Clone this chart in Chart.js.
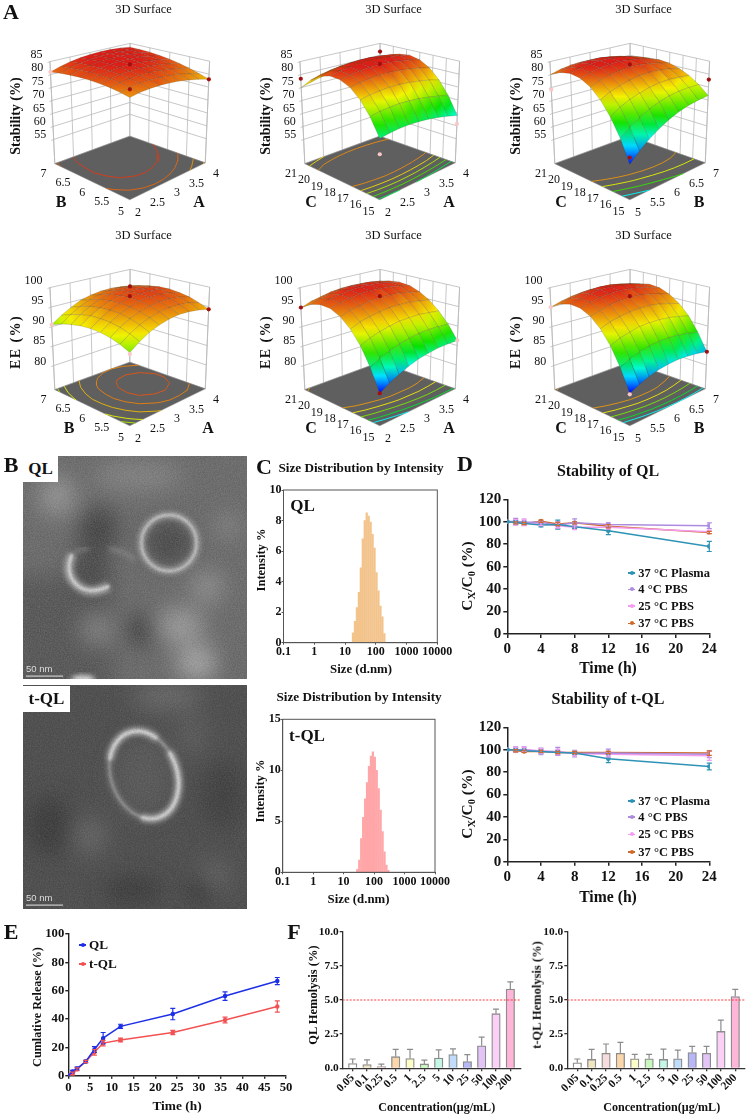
<!DOCTYPE html>
<html lang="en">
<head>
<meta charset="UTF-8">
<title>Liposome characterisation</title>
<script src="https://cdn.jsdelivr.net/npm/chart.js"></script>
<style>
    html, body { margin: 0; padding: 0; background: #fff; }
    #page { position: relative; width: 747px; height: 1115px; overflow: hidden; font-family: "Liberation Serif", serif; color: #111; filter: blur(0.35px); }
    canvas { position: absolute; }
    svg { position: absolute; }
    .lbl { position: absolute; white-space: nowrap; line-height: 1; }
    .lbl sub { font-size: 68%; vertical-align: -0.3em; line-height: 0; }
    .tag { position: absolute; background: #fff; font-weight: bold; font-size: 17px; text-align: center; }
    .scale { position: absolute; color: #ddd; font: 9.5px "Liberation Sans", sans-serif; }
    .key { position: absolute; height: 1.5px; }
    .key i { position: absolute; left: 50%; top: 50%; width: 4px; height: 4px; margin: -2px; border-radius: 50%; background: inherit; }
</style>
</head>
<body>
<div id="page">
    <!-- TEM micrographs, panel B -->
    <svg style="left:23px;top:456px" width="224" height="223">
        <defs>
            <filter id="b12" x="-50%" y="-50%" width="200%" height="200%"><feGaussianBlur stdDeviation="11"/></filter>
            <filter id="b2" x="-30%" y="-30%" width="160%" height="160%"><feGaussianBlur stdDeviation="2.5"/></filter>
            <filter id="b1" x="-30%" y="-30%" width="160%" height="160%"><feGaussianBlur stdDeviation="0.8"/></filter>
            <filter id="grain"><feTurbulence type="fractalNoise" baseFrequency="0.8" numOctaves="2" seed="4"/><feColorMatrix values="0 0 0 0 0.5  0 0 0 0 0.5  0 0 0 0 0.5  1.4 0 0 0 -0.45"/></filter>
            <filter id="grainDark"><feTurbulence type="fractalNoise" baseFrequency="0.75" numOctaves="2" seed="9"/><feColorMatrix values="0 0 0 0 0  0 0 0 0 0  0 0 0 0 0  1.2 0 0 0 -0.45"/></filter>
        </defs>
        <rect width="224" height="223" fill="#6c6c6c"/>
        <g filter="url(#b12)">
            <rect x="-20" y="120" width="110" height="130" fill="#585858"/>
            <ellipse cx="75" cy="74" rx="20" ry="24" fill="#454545"/>
            <ellipse cx="124" cy="174" rx="22" ry="15" fill="#404040"/>
            <ellipse cx="194" cy="207" rx="12" ry="10" fill="#4c4c4c"/>
            <ellipse cx="67" cy="115" rx="20" ry="20" fill="#4a4a4a"/>
            <ellipse cx="146" cy="87" rx="24" ry="24" fill="#4c4c4c"/>
            <ellipse cx="34" cy="40" rx="18" ry="20" fill="#979797"/>
            <ellipse cx="157" cy="170" rx="24" ry="18" fill="#9c9c9c"/>
            <ellipse cx="174" cy="207" rx="20" ry="18" fill="#a8a8a8"/>
            <ellipse cx="184" cy="131" rx="16" ry="16" fill="#929292"/>
            <ellipse cx="74" cy="174" rx="14" ry="14" fill="#888"/>
            <ellipse cx="115" cy="20" rx="45" ry="14" fill="#858585"/>
            <ellipse cx="205" cy="70" rx="10" ry="12" fill="#8d8d8d"/>
        </g>
        <ellipse cx="60" cy="223" rx="12" ry="4" fill="#ddd" filter="url(#b2)"/>
        <g fill="none">
            <ellipse cx="146" cy="87" rx="28" ry="28" stroke="#a0a0a0" stroke-width="7" filter="url(#b2)"/>
            <ellipse cx="146" cy="87" rx="27.5" ry="28" stroke="#d0d0d0" stroke-width="1.8" filter="url(#b1)"/>
            <path d="M49 98 Q40 118 55 130 Q68 140 86 130" stroke="#a8a8a8" stroke-width="9" filter="url(#b2)"/>
            <path d="M49 98 Q41 118 55 130 Q68 139 86 130" stroke="#d8d8d8" stroke-width="2.6" filter="url(#b1)"/>
            <path d="M66 93 L86 93" stroke="#e6e6e6" stroke-width="1.3" filter="url(#b1)"/>
            <path d="M50 98 Q56 92 66 93" stroke="#8a8a8a" stroke-width="2.5" filter="url(#b2)"/>
            <path d="M86 93 Q100 94 112 104" stroke="#8e8e8e" stroke-width="3" filter="url(#b2)"/>
        </g>
        <rect width="224" height="223" filter="url(#grain)" opacity="0.25"/>
        <rect width="224" height="223" filter="url(#grainDark)" opacity="0.18"/>
        <rect x="3" y="219.5" width="37" height="1.2" fill="#ccc"/>
    </svg>
    <svg style="left:23px;top:685px" width="224" height="224">
        <rect width="224" height="224" fill="#4f4f4f"/>
        <g filter="url(#b12)">
            <ellipse cx="144" cy="11" rx="35" ry="14" fill="#6a6a6a"/>
            <ellipse cx="67" cy="151" rx="16" ry="18" fill="#686868"/>
            <ellipse cx="191" cy="191" rx="16" ry="14" fill="#666"/>
            <ellipse cx="170" cy="50" rx="14" ry="20" fill="#5e5e5e"/>
            <ellipse cx="27" cy="141" rx="22" ry="30" fill="#3e3e3e"/>
            <ellipse cx="177" cy="205" rx="12" ry="12" fill="#333"/>
            <ellipse cx="110" cy="205" rx="30" ry="12" fill="#3a3a3a"/>
            <ellipse cx="200" cy="110" rx="22" ry="35" fill="#424242"/>
            <ellipse cx="121" cy="91" rx="30" ry="40" fill="#5a5a5a"/>
        </g>
        <g fill="none" transform="rotate(-20 121 90)">
            <ellipse cx="121" cy="90" rx="33" ry="45" stroke="#7e7e7e" stroke-width="5" filter="url(#b2)"/>
            <ellipse cx="121" cy="90" rx="33" ry="45" stroke="#b0b0b0" stroke-width="1.2" filter="url(#b1)"/>
            <ellipse cx="121" cy="90" rx="33" ry="45" stroke="#a8a8a8" stroke-width="7" stroke-dasharray="95 70 65 18" stroke-dashoffset="15" filter="url(#b2)"/>
            <ellipse cx="121" cy="90" rx="33" ry="45" stroke="#dedede" stroke-width="2.4" stroke-dasharray="95 70 65 18" stroke-dashoffset="15" filter="url(#b1)"/>
        </g>
        <rect width="224" height="224" filter="url(#grain)" opacity="0.18"/>
        <rect width="224" height="224" filter="url(#grainDark)" opacity="0.18"/>
        <rect x="3" y="219.5" width="37" height="1.2" fill="#ccc"/>
    </svg>
    <div class="tag" style="left:23px;top:456px;width:35px;height:26px;line-height:26px">QL</div>
    <div class="tag" style="left:23px;top:686px;width:47px;height:26px;line-height:26px">t-QL</div>
    <div class="scale" style="left:26px;top:663px">50 nm</div>
    <div class="scale" style="left:26px;top:892px">50 nm</div>
</div>

<script>
    // Panel A, response surfaces. Rows run along the left floor axis, columns along the right one.
    const tickA = [2, 2.5, 3, 3.5, 4];
    const tickB = [5, 5.5, 6, 6.5, 7];
    const tickC = [15, 16, 17, 18, 19, 20, 21];
    const tickStability = [55, 60, 65, 70, 75, 80, 85];
    const tickEE = [80, 85, 90, 95, 100];

    const stabilityAB = [
        [79.6, 80.3, 80.7, 80.9, 80.8, 80.5, 79.9, 79.1, 78.0],
        [80.4, 81.2, 81.7, 81.9, 81.9, 81.6, 81.1, 80.3, 79.3],
        [81.1, 81.9, 82.4, 82.7, 82.8, 82.6, 82.1, 81.4, 80.5],
        [81.5, 82.4, 83.0, 83.4, 83.5, 83.3, 83.0, 82.3, 81.4],
        [81.8, 82.7, 83.4, 83.8, 84.0, 83.9, 83.6, 83.0, 82.2],
        [81.9, 82.9, 83.6, 84.1, 84.3, 84.3, 84.1, 83.5, 82.8],
        [81.8, 82.8, 83.6, 84.2, 84.5, 84.5, 84.3, 83.9, 83.2],
        [81.5, 82.6, 83.5, 84.1, 84.4, 84.5, 84.4, 84.0, 83.4],
        [81.0, 82.2, 83.1, 83.8, 84.2, 84.4, 84.3, 84.0, 83.4]
    ];
    const stabilityAC = [
        [66.0, 66.6, 67.0, 67.1, 67.0, 66.6, 66.0, 65.1, 64.0],
        [72.2, 72.9, 73.3, 73.5, 73.4, 73.1, 72.5, 71.7, 70.7],
        [76.9, 77.6, 78.1, 78.4, 78.4, 78.1, 77.6, 76.9, 75.9],
        [80.2, 81.0, 81.5, 81.9, 81.9, 81.7, 81.3, 80.6, 79.7],
        [82.0, 82.9, 83.5, 83.9, 84.0, 83.9, 83.5, 82.9, 82.0],
        [82.4, 83.4, 84.0, 84.5, 84.7, 84.6, 84.3, 83.7, 82.9],
        [81.4, 82.4, 83.1, 83.6, 83.9, 83.9, 83.6, 83.1, 82.4],
        [78.9, 80.0, 80.8, 81.4, 81.7, 81.7, 81.5, 81.1, 80.4],
        [75.0, 76.1, 77.0, 77.6, 78.0, 78.1, 78.0, 77.6, 77.0]
    ];
    const stabilityBC = [
        [57.5, 60.6, 63.3, 65.6, 67.6, 69.2, 70.4, 71.2, 71.7],
        [65.0, 67.5, 69.7, 71.5, 73.0, 74.1, 74.7, 75.0, 75.0],
        [71.1, 73.3, 75.0, 76.3, 77.3, 78.0, 78.2, 78.0, 77.6],
        [75.9, 77.7, 79.0, 80.0, 80.7, 80.9, 80.8, 80.3, 79.4],
        [79.4, 80.9, 82.0, 82.6, 83.0, 83.0, 82.5, 81.7, 80.6],
        [81.6, 82.8, 83.7, 84.1, 84.3, 84.0, 83.4, 82.4, 81.0],
        [82.4, 83.5, 84.2, 84.5, 84.6, 84.2, 83.4, 82.2, 80.7],
        [81.8, 82.9, 83.6, 83.8, 83.8, 83.3, 82.5, 81.3, 79.7],
        [80.0, 81.1, 81.8, 82.0, 82.0, 81.6, 80.8, 79.5, 78.0]
    ];
    const eeAB = [
        [90.0, 91.7, 93.1, 94.1, 94.8, 95.2, 95.2, 94.9, 94.3],
        [91.1, 92.8, 94.2, 95.2, 95.9, 96.3, 96.3, 96.1, 95.4],
        [91.9, 93.6, 95.0, 96.0, 96.7, 97.1, 97.2, 96.9, 96.3],
        [92.4, 94.1, 95.5, 96.5, 97.3, 97.7, 97.7, 97.4, 96.8],
        [92.6, 94.3, 95.7, 96.8, 97.5, 97.9, 98.0, 97.7, 97.1],
        [92.5, 94.3, 95.6, 96.7, 97.4, 97.8, 97.9, 97.7, 97.1],
        [92.1, 93.9, 95.3, 96.4, 97.1, 97.5, 97.6, 97.3, 96.7],
        [91.5, 93.2, 94.6, 95.7, 96.4, 96.8, 96.9, 96.7, 96.1],
        [90.5, 92.2, 93.6, 94.8, 95.5, 95.9, 96.0, 95.8, 95.2]
    ];
    const eeAC = [
        [81.0, 82.4, 83.5, 84.5, 85.3, 85.8, 86.2, 86.3, 86.3],
        [86.0, 87.2, 88.1, 88.9, 89.5, 89.9, 90.1, 90.0, 89.8],
        [90.1, 91.1, 91.9, 92.5, 93.0, 93.1, 93.2, 92.9, 92.6],
        [93.2, 94.2, 94.8, 95.3, 95.7, 95.7, 95.7, 95.3, 94.8],
        [95.4, 96.3, 96.8, 97.3, 97.5, 97.5, 97.4, 96.9, 96.4],
        [96.7, 97.5, 98.0, 98.5, 98.7, 98.6, 98.4, 98.0, 97.4],
        [97.0, 97.8, 98.3, 98.8, 99.0, 98.9, 98.8, 98.3, 97.7],
        [96.4, 97.2, 97.8, 98.3, 98.5, 98.5, 98.4, 98.0, 97.4],
        [94.8, 95.8, 96.4, 97.0, 97.3, 97.4, 97.3, 97.0, 96.5]
    ];
    const eeBC = [
        [81.0, 82.1, 83.0, 83.7, 84.1, 84.3, 84.2, 83.9, 83.4],
        [86.0, 87.0, 87.9, 88.5, 88.8, 88.9, 88.7, 88.3, 87.7],
        [90.1, 91.1, 91.8, 92.4, 92.6, 92.6, 92.4, 91.9, 91.3],
        [93.3, 94.2, 94.8, 95.3, 95.5, 95.5, 95.2, 94.6, 93.9],
        [95.5, 96.3, 97.0, 97.4, 97.5, 97.5, 97.1, 96.5, 95.7],
        [96.8, 97.6, 98.2, 98.6, 98.7, 98.6, 98.2, 97.6, 96.8],
        [97.1, 97.9, 98.5, 98.9, 99.0, 98.9, 98.5, 97.9, 97.1],
        [96.5, 97.3, 97.9, 98.3, 98.4, 98.3, 97.9, 97.3, 96.5],
        [95.0, 95.8, 96.4, 96.8, 96.9, 96.8, 96.4, 95.8, 95.0]
    ];

    // floor contour levels
    const levelsStabilityAB = [83, 81.3, 79.6, 78.2];
    const levelsStabilityAC = [80, 77, 74, 70.5, 67];
    const levelsStabilityBC = [79.6, 75.5, 70, 63.5];
    const levelsEEAB = [97.3, 96, 94.3, 92.2, 91];
    const levelsEEAC = [95.3, 92.8, 90, 87, 84.5];
    const levelsEEBC = [95.3, 92.8, 90, 87, 84.5];

    // design points: fraction along right axis, fraction along left axis, response, above surface (1) or below (0)
    const pointsStabilityAB = [[0.5, 0.5, 84, 1], [0.5, 0.5, 74.6, 1], [1, 0, 78, 1], [0, 1, 81, 0]];
    const pointsStabilityAC = [[0.5, 0.5, 84.2, 1], [1, 1, 81.5, 1], [0, 0, 60.8, 0], [0, 1, 78.4, 1], [1, 0, 60.8, 0]];
    const pointsStabilityBC = [[0.5, 0.5, 84, 1], [0, 0, 59.7, 1], [1, 0, 77.9, 1], [0, 1, 74.2, 0]];
    const pointsEEAB = [[0.5, 0.5, 97.9, 1], [1, 1, 95.2, 1], [0, 0, 89.7, 0], [1, 0, 94.3, 1], [0, 1, 90.5, 0]];
    const pointsEEAC = [[0.5, 0.5, 97.9, 1], [0, 0, 81, 1], [0, 1, 94.9, 1], [1, 0, 86.3, 0]];
    const pointsEEBC = [[0.5, 0.5, 97.9, 1], [0, 0, 80.8, 0], [0, 1, 95, 0], [1, 0, 83.4, 1]];

    // Panel C, size distribution by intensity
    const sizeBinsQL = [18.17, 21.04, 24.36, 28.21, 32.67, 37.84, 43.82, 50.75, 58.77, 68.06, 78.82, 91.28, 105.7, 122.4, 141.8, 164.2, 190.1];
    const intensityQL = [0.65, 1.4, 2.3, 3.3, 4.9, 6.8, 8.0, 8.5, 8.3, 7.9, 7.1, 6.2, 4.6, 3.4, 2.4, 1.7, 0.6];
    const sizeBinsTQL = [28.21, 32.67, 37.84, 43.82, 50.75, 58.77, 68.06, 78.82, 91.28, 105.7, 122.4, 141.8, 164.2, 190.1, 220.2, 255.0, 295.3];
    const intensityTQL = [0.3, 1.2, 3.3, 5.4, 7.2, 8.8, 10.4, 11.4, 11.8, 11.3, 10.0, 8.2, 6.1, 4.0, 2.0, 0.7, 0.2];
    const sizeTicks = [0.1, 1, 10, 100, 1000, 10000];

    // Panel D, stability
    const stabilityHours = [0, 1, 2, 4, 6, 8, 12, 24];
    const stabilityNames = ['37 °C Plasma', '4 °C PBS', '25 °C PBS', '37 °C PBS'];
    const stabilityColors = ['#2f93b5', '#ad8ce0', '#f49cef', '#cf6a2a'];
    const qlPlasma = [100, 99.5, 98.5, 97, 97.5, 95.5, 92, 78];
    const qlPlasmaErr = [0, 2, 1.5, 1.5, 4, 1.5, 3.5, 4.5];
    const ql4C = [100, 100.5, 99.5, 99.5, 97, 99, 97.5, 96.5];
    const ql4CErr = [0, 2.5, 2, 1.5, 3, 3.5, 1.5, 2.5];
    const ql25C = [100, 99.5, 99.5, 98, 96.5, 95, 95, 91];
    const ql25CErr = [0, 2.5, 3, 1.5, 2, 2, 1.5, 1.5];
    const ql37C = [100, 99, 98.5, 100.5, 98, 99, 96, 90.5];
    const ql37CErr = [0, 1, 1, 1, 1.5, 1, 1.5, 1];
    const tqlPlasma = [100, 100, 99, 98.5, 97.5, 97, 92, 85];
    const tqlPlasmaErr = [0, 1.5, 1.5, 2, 2, 1.5, 3.5, 3];
    const tql4C = [100, 100, 100, 98.5, 98.5, 96.5, 97, 96];
    const tql4CErr = [0, 2.5, 2.5, 3, 3.5, 3, 3.5, 3];
    const tql25C = [100, 100, 100, 99, 98, 96.5, 96, 94.5];
    const tql25CErr = [0, 2, 2, 2, 2.5, 2, 2.5, 4];
    const tql37C = [100, 99, 98.5, 98.5, 97.5, 97.5, 97.5, 97];
    const tql37CErr = [0, 1, 1, 1, 1, 1, 1, 2];

    // Panel E, cumulative release
    const releaseHours = [0, 1, 2, 4, 6, 8, 12, 24, 36, 48];
    const releaseQL = [0, 3, 5, 10, 18.5, 26.5, 34.8, 43.5, 56.2, 66.8];
    const releaseQLErr = [0, 0.8, 1, 0.8, 2, 4, 1.5, 4, 3, 2.5];
    const releaseTQL = [0, 1.5, 4.5, 10, 16.5, 23, 25.2, 30.5, 39.3, 48.8];
    const releaseTQLErr = [0, 1, 1, 0.8, 2, 2, 1.3, 1.5, 2, 4];

    // Panel F, hemolysis
    const concentrations = ['0.05', '0.1', '0.25', '0.5', '1', '2.5', '5', '10', '25', '50', '100', '200'];
    const hemolysisColors = ['#ffffff', '#efe6c0', '#f6dcdc', '#fbd6aa', '#fdfdc8', '#c8f7c0', '#c4f7e4', '#c0dcfa', '#b7b7f7', '#e2c4f7', '#fbd0f7', '#ffb5d8'];
    const hemolysisQL = [0.35, 0.28, 0.12, 0.85, 0.72, 0.32, 0.75, 1.0, 0.5, 1.65, 4.0, 5.8];
    const hemolysisQLErr = [0.33, 0.34, 0.18, 0.53, 0.66, 0.28, 0.6, 0.42, 0.5, 0.63, 0.33, 0.52];
    const hemolysisTQL = [0.4, 0.65, 1.1, 1.1, 0.7, 0.7, 0.65, 0.7, 1.15, 1.1, 2.7, 5.25];
    const hemolysisTQLErr = [0.28, 0.73, 0.68, 0.8, 0.32, 0.32, 0.75, 0.63, 0.45, 0.5, 0.82, 0.53];
    const hemolysisLimit = 5;

    const FONT = '"Liberation Serif", serif';
    Chart.defaults.font.family = FONT;
    Chart.defaults.color = '#111';
    Chart.defaults.animation = false;
    Chart.defaults.responsive = false;
    Chart.defaults.events = [];
    Chart.defaults.plugins.legend.display = false;
    Chart.defaults.plugins.tooltip.enabled = false;

    const page = document.getElementById('page');

    function label(html, x, y, size, opts) {
        opts = opts || {};
        const d = document.createElement('div');
        d.className = 'lbl';
        d.innerHTML = html;
        d.style.left = x + 'px';
        d.style.top = y + 'px';
        d.style.fontSize = size + 'px';
        d.style.fontWeight = opts.normal ? 'normal' : 'bold';
        if (opts.spacing) d.style.letterSpacing = opts.spacing + 'px';
        d.style.transform = 'translate(-50%,-50%)' + (opts.rot ? ' rotate(' + opts.rot + 'deg)' : '');
        page.appendChild(d);
    }

    function addCanvas(x, y, w, h) {
        const c = document.createElement('canvas');
        c.width = w;
        c.height = h;
        c.style.left = x + 'px';
        c.style.top = y + 'px';
        page.appendChild(c);
        return c;
    }

    // error bars, read from dataset.errors through the chart scales
    const errorBars = {
        id: 'errorBars',
        afterDatasetsDraw(chart) {
            const ctx = chart.ctx, ys = chart.scales.y;
            chart.data.datasets.forEach((ds, i) => {
                if (!ds.errors) return;
                const meta = chart.getDatasetMeta(i);
                ctx.save();
                ctx.strokeStyle = ds.errorColor || ds.borderColor;
                ctx.lineWidth = ds.errorWidth || 1.2;
                ds.data.forEach((p, k) => {
                    const e = ds.errors[k];
                    if (!e) return;
                    const x = meta.data[k].x, cap = ds.capSize || 2.5;
                    const top = ys.getPixelForValue(p.y + e);
                    const bottom = ys.getPixelForValue(ds.upperOnly ? p.y : p.y - e);
                    ctx.beginPath();
                    ctx.moveTo(x, bottom); ctx.lineTo(x, top);
                    ctx.moveTo(x - cap, top); ctx.lineTo(x + cap, top);
                    if (!ds.upperOnly) { ctx.moveTo(x - cap, bottom); ctx.lineTo(x + cap, bottom); }
                    ctx.stroke();
                });
                ctx.restore();
            });
        }
    };

    const frame = {
        id: 'frame',
        afterDraw(chart) {
            const a = chart.chartArea, ctx = chart.ctx;
            ctx.save();
            ctx.strokeStyle = '#555';
            ctx.lineWidth = 1;
            ctx.strokeRect(a.left, a.top, a.right - a.left, a.bottom - a.top);
            ctx.restore();
        }
    };

    // plain 2D chart whose plot area sits at a fixed place on the page
    function fixedChart(box, plot, type, datasets, xOpts, yOpts, plugins) {
        const canvas = addCanvas(box.x, box.y, box.w, box.h);
        const fit = (s, prop, val) => {
            s[prop] = val;
            s.paddingLeft = s.paddingRight = s.paddingTop = s.paddingBottom = 0;
        };
        return new Chart(canvas, {
            type: type,
            data: { datasets: datasets },
            options: {
                layout: { padding: { top: plot.top - box.y, right: box.x + box.w - plot.right, left: 0, bottom: 0 } },
                scales: {
                    x: Object.assign({ afterFit: s => fit(s, 'height', box.y + box.h - plot.bottom) }, xOpts),
                    y: Object.assign({ afterFit: s => fit(s, 'width', plot.left - box.x) }, yOpts)
                }
            },
            plugins: plugins || [errorBars]
        });
    }

    function axisLook(size, tickLength, pad, color, width) {
        return {
            border: { color: color, width: width },
            grid: { drawOnChartArea: false, drawTicks: true, tickLength: tickLength, color: color, lineWidth: width, offset: false },
            ticks: { font: { size: size, weight: 'bold' }, color: '#111', padding: pad, autoSkip: false, maxRotation: 0 }
        };
    }

    function merge(a, b) {
        const out = Object.assign({}, a, b);
        out.ticks = Object.assign({}, a.ticks, b.ticks);
        return out;
    }

    // ---- Panel A ----
    const STAB_RAMP = [[57, [0, 0, 255]], [63.5, [0, 255, 255]], [68.5, [0, 225, 0]], [76, [245, 245, 0]], [84, [220, 30, 25]]];
    const EE_RAMP = [[81, [0, 0, 255]], [84.5, [0, 255, 255]], [87.5, [0, 225, 0]], [92.5, [245, 245, 0]], [99, [220, 30, 25]]];

    function rampColor(ramp, z) {
        if (z <= ramp[0][0]) return 'rgb(' + ramp[0][1] + ')';
        for (let k = 1; k < ramp.length; k++) {
            if (z <= ramp[k][0]) {
                const t = (z - ramp[k - 1][0]) / (ramp[k][0] - ramp[k - 1][0]);
                const c = ramp[k][1].map((v, n) => Math.round(ramp[k - 1][1][n] + t * (v - ramp[k - 1][1][n])));
                return 'rgb(' + c + ')';
            }
        }
        return 'rgb(' + ramp[ramp.length - 1][1] + ')';
    }

    function contourPieces(grid, wanted) {
        // nudged so a level never lands exactly on a grid value
        const level = wanted + 0.013;
        const out = [], n = grid.length - 1;
        for (let j = 0; j < n; j++) {
            for (let i = 0; i < n; i++) {
                const a = grid[j][i], b = grid[j][i + 1], c = grid[j + 1][i + 1], d = grid[j + 1][i];
                const hits = [];
                if ((a - level) * (b - level) < 0) hits.push([i + (level - a) / (b - a), j]);
                if ((b - level) * (c - level) < 0) hits.push([i + 1, j + (level - b) / (c - b)]);
                if ((d - level) * (c - level) < 0) hits.push([i + (level - d) / (c - d), j + 1]);
                if ((a - level) * (d - level) < 0) hits.push([i, j + (level - a) / (d - a)]);
                if (hits.length >= 2) out.push([hits[0][0] / n, hits[0][1] / n], [hits[1][0] / n, hits[1][1] / n], null);
            }
        }
        return out;
    }

    function surfacePanel(col, row, cfg) {
        const W = 247, H = 226, left = col * 250, top = row * 226;
        const zTicks = cfg.zTicks, zTop = zTicks[zTicks.length - 1], zFloor = cfg.zFloor;
        const mix = (a, b, t) => [a[0] + (b[0] - a[0]) * t, a[1] + (b[1] - a[1]) * t];
        const F = [130, 203], R = [208, 164.7], L = [52.5, 165.5], B = [130, 137];
        const Ft = [130, 80], Rt = [212.5, 59.3], Lt = [47.5, 59.7], Bt = [130.3, 40.8];
        const project = (u, v, z) => {
            const w = (z - zFloor) / (zTop - zFloor);
            const floor = mix(mix(F, R, u), mix(L, B, u), v);
            const lid = mix(mix(Ft, Rt, u), mix(Lt, Bt, u), v);
            const p = mix(floor, lid, w);
            return { x: p[0], y: p[1] };
        };
        const gap = { x: NaN, y: NaN };
        const line = { type: 'scatter', showLine: true, pointRadius: 0, fill: false };
        const datasets = [];

        // design points on top
        datasets.push({
            type: 'scatter',
            data: cfg.points.map(p => project(p[0], p[1], p[2])),
            pointRadius: 2.1,
            pointBorderWidth: 0,
            pointBackgroundColor: cfg.points.map(p => p[3] ? '#a30f0f' : '#f8c8c8')
        });

        // surface cells, front first so the back ones are painted before them
        const grid = cfg.grid, n = grid.length - 1, cells = [];
        for (let j = 0; j < n; j++) for (let i = 0; i < n; i++) cells.push([i, j]);
        cells.sort((a, b) => (a[0] + a[1]) - (b[0] + b[1]));
        cells.forEach(([i, j]) => {
            const corners = [[i, j], [i + 1, j], [i + 1, j + 1], [i, j + 1]].map(c => project(c[0] / n, c[1] / n, grid[c[1]][c[0]]));
            const zs = [grid[j][i], grid[j][i + 1], grid[j + 1][i + 1], grid[j + 1][i]];
            const lo = zs.indexOf(Math.min(...zs)), hi = zs.indexOf(Math.max(...zs));
            datasets.push(Object.assign({}, line, {
                data: corners.concat([corners[0]]),
                fill: 'shape',
                borderWidth: 0.5,
                borderColor: 'rgba(50,40,20,0.33)',
                backgroundColor: c => {
                    const sx = c.chart.scales.x, sy = c.chart.scales.y;
                    const x0 = sx.getPixelForValue(corners[lo].x), y0 = sy.getPixelForValue(corners[lo].y);
                    const x1 = sx.getPixelForValue(corners[hi].x), y1 = sy.getPixelForValue(corners[hi].y);
                    // the option is read once before the scales have their size
                    if (![x0, y0, x1, y1].every(Number.isFinite)) return rampColor(cfg.ramp, zs[hi]);
                    const g = c.chart.ctx.createLinearGradient(x0, y0, x1, y1);
                    g.addColorStop(0, rampColor(cfg.ramp, zs[lo]));
                    g.addColorStop(0.5, rampColor(cfg.ramp, (zs[lo] + zs[hi]) / 2));
                    g.addColorStop(1, rampColor(cfg.ramp, zs[hi]));
                    return g;
                }
            }));
        });

        // contours on the floor
        cfg.levels.forEach(level => {
            datasets.push(Object.assign({}, line, {
                data: contourPieces(grid, level).map(p => p ? project(p[0], p[1], zFloor) : gap),
                borderWidth: 0.9,
                borderColor: rampColor(cfg.ramp, level)
            }));
        });

        // floor
        datasets.push(Object.assign({}, line, {
            data: [[0, 0], [1, 0], [1, 1], [0, 1], [0, 0]].map(p => project(p[0], p[1], zFloor)),
            fill: 'shape',
            borderWidth: 0.5,
            borderColor: '#8a8a8a',
            backgroundColor: '#5f5f5f'
        }));

        // walls
        const wall = [];
        const seg = (a, b) => wall.push(a, b, gap);
        const spanOf = t => (t[t.length - 1] - t[0]);
        zTicks.concat([zFloor]).forEach(z => {
            seg(project(0, 1, z), project(1, 1, z));
            seg(project(1, 1, z), project(1, 0, z));
        });
        cfg.rightTicks.forEach(t => {
            const u = (t - cfg.rightTicks[0]) / spanOf(cfg.rightTicks);
            seg(project(u, 1, zFloor), project(u, 1, zTop));
        });
        cfg.leftTicks.forEach(t => {
            const v = (t - cfg.leftTicks[0]) / spanOf(cfg.leftTicks);
            seg(project(1, v, zFloor), project(1, v, zTop));
        });
        seg(project(0, 1, zFloor), project(0, 1, zTop));
        seg(project(1, 0, zFloor), project(1, 0, zTop));
        zTicks.forEach(z => {
            const p = project(0, 1, z);
            seg({ x: p.x - 2.5, y: p.y + 1 }, p);
        });
        datasets.push(Object.assign({}, line, { data: wall, borderWidth: 0.8, borderColor: '#b9b9b9' }));

        new Chart(addCanvas(left, top, W, H), {
            type: 'scatter',
            data: { datasets: datasets },
            options: {
                clip: false,
                scales: {
                    x: { type: 'linear', display: false, min: 0, max: W },
                    y: { type: 'linear', display: false, min: 0, max: H, reverse: true }
                }
            }
        });

        // text
        const tx = left, ty = top;
        label('3D Surface', tx + 143.5, ty + 8.5, 12.5, { normal: true });
        label(cfg.title, tx + 16, ty + 116, 14, { rot: -90, spacing: cfg.titleSpacing });
        zTicks.forEach(z => {
            const p = project(0, 1, z);
            label(String(z), tx + p.x - (z >= 100 ? 14 : 11), ty + p.y - 6, 12, { normal: true });
        });
        cfg.leftTicks.forEach(t => {
            const v = (t - cfg.leftTicks[0]) / spanOf(cfg.leftTicks);
            const p = project(0, v, zFloor);
            label(String(t), tx + p.x - (t >= 10 ? 11.5 : 9), ty + p.y + 7.5, 12, { normal: true });
        });
        cfg.rightTicks.forEach(t => {
            const u = (t - cfg.rightTicks[0]) / spanOf(cfg.rightTicks);
            const p = project(u, 0, zFloor);
            label(String(t), tx + p.x + 8, ty + p.y + 8.5, 12, { normal: true });
        });
        label(cfg.leftName, tx + (cfg.leftX || 61), ty + 201.5, 16);
        label(cfg.rightName, tx + (cfg.rightX || 199), ty + 201.5, 16);
    }

    const STAB = { title: 'Stability (%)', zTicks: tickStability, zFloor: 45.7, ramp: STAB_RAMP };
    const EE = { title: 'EE (%)', titleSpacing: 1.4, zTicks: tickEE, zFloor: 73.85, ramp: EE_RAMP };
    surfacePanel(0, 0, Object.assign({}, STAB, { grid: stabilityAB, levels: levelsStabilityAB, points: pointsStabilityAB, leftTicks: tickB, rightTicks: tickA, leftName: 'B', rightName: 'A' }));
    surfacePanel(1, 0, Object.assign({}, STAB, { grid: stabilityAC, levels: levelsStabilityAC, points: pointsStabilityAC, leftTicks: tickC, rightTicks: tickA, leftName: 'C', rightName: 'A' }));
    surfacePanel(2, 0, Object.assign({}, STAB, { grid: stabilityBC, levels: levelsStabilityBC, points: pointsStabilityBC, leftTicks: tickC, rightTicks: tickB, leftName: 'C', rightName: 'B' }));
    surfacePanel(0, 1, Object.assign({}, EE, { grid: eeAB, levels: levelsEEAB, points: pointsEEAB, leftTicks: tickB, rightTicks: tickA, leftName: 'B', rightName: 'A', leftX: 69, rightX: 208 }));
    surfacePanel(1, 1, Object.assign({}, EE, { grid: eeAC, levels: levelsEEAC, points: pointsEEAC, leftTicks: tickC, rightTicks: tickA, leftName: 'C', rightName: 'A' }));
    surfacePanel(2, 1, Object.assign({}, EE, { grid: eeBC, levels: levelsEEBC, points: pointsEEBC, leftTicks: tickC, rightTicks: tickB, leftName: 'C', rightName: 'B' }));

    // ---- Panel C ----
    function sizePanel(box, plot, sizes, values, color, yMax, yStep, name, nameX, nameY) {
        const look = axisLook(12, 2, 0, '#555', 1);
        fixedChart(box, plot, 'bar', [{
            data: sizes.map((s, i) => ({ x: s, y: values[i] })),
            backgroundColor: color,
            barThickness: 1.6
        }], merge(look, {
            type: 'logarithmic', min: 0.1, max: 10000, offset: false,
            afterBuildTicks: s => { s.ticks = sizeTicks.map(v => ({ value: v })); },
            ticks: { callback: v => String(v) }
        }), merge(look, {
            type: 'linear', min: 0, max: yMax,
            ticks: { stepSize: yStep }
        }), [frame]);
        label(name, nameX, nameY, 17);
    }
    sizePanel({ x: 250, y: 482, w: 202, h: 180 }, { left: 283.5, top: 490, right: 437.3, bottom: 642.7 }, sizeBinsQL, intensityQL, '#f3c38c', 10, 2, 'QL', 302.5, 505);
    sizePanel({ x: 250, y: 712, w: 202, h: 180 }, { left: 282.7, top: 719.3, right: 435, bottom: 872.3 }, sizeBinsTQL, intensityTQL, '#ffa6a8', 15, 5, 't-QL', 307, 735);
    label('Size Distribution by Intensity', 361, 468, 13.2);
    label('Size Distribution by Intensity', 359, 697, 13.2);
    label('Size (d.nm)', 361, 669, 12.8);
    label('Size (d.nm)', 358.5, 899, 12.8);
    label('Intensity %', 261, 560, 12.5, { rot: -90 });
    label('Intensity %', 260, 791, 12.5, { rot: -90 });

    // ---- Panel D ----
    function keyRow(x, y, color, text, textX, size) {
        const k = document.createElement('div');
        k.className = 'key';
        k.style.cssText = 'left:' + x + 'px;top:' + (y - 0.7) + 'px;width:7px;background:' + color;
        k.innerHTML = '<i></i>';
        page.appendChild(k);
        const t = document.createElement('div');
        t.className = 'lbl';
        t.textContent = text;
        t.style.cssText = 'left:' + textX + 'px;top:' + y + 'px;font-size:' + size + 'px;font-weight:bold;transform:translateY(-50%)';
        page.appendChild(t);
    }

    function stabilityPanel(box, plot, series, errs, keyYs) {
        const look = axisLook(15, 4, 2, '#222', 1.5);
        fixedChart(box, plot, 'line', series.map((vals, s) => ({
            data: stabilityHours.map((h, i) => ({ x: h, y: vals[i] })),
            borderColor: stabilityColors[s],
            backgroundColor: stabilityColors[s],
            borderWidth: 1.5,
            pointRadius: 1.6,
            errors: errs[s],
            tension: 0
        })), merge(look, { type: 'linear', min: 0, max: 24, ticks: { stepSize: 4 } }),
        merge(look, { type: 'linear', min: 0, max: 120, ticks: { stepSize: 20 } }));
        stabilityNames.forEach((nm, s) => keyRow(628, keyYs[s], stabilityColors[s], nm, 638.3, 12.5));
    }
    stabilityPanel({ x: 470, y: 488, w: 277, h: 180 }, { left: 507.3, top: 499.3, right: 709.3, bottom: 634 },
        [qlPlasma, ql4C, ql25C, ql37C], [qlPlasmaErr, ql4CErr, ql25CErr, ql37CErr], [572.7, 589.3, 606, 623.3]);
    stabilityPanel({ x: 470, y: 716, w: 277, h: 180 }, { left: 507.3, top: 727.3, right: 709.3, bottom: 861.7 },
        [tqlPlasma, tql4C, tql25C, tql37C], [tqlPlasmaErr, tql4CErr, tql25CErr, tql37CErr], [800.7, 817, 834.3, 851.7]);
    label('Stability of QL', 608, 471, 16);
    label('Stability of t-QL', 608, 699, 16);
    label('Time (h)', 608, 668, 15.7);
    label('Time (h)', 608, 896.5, 15.7);
    label('C<sub>X</sub>/C<sub>0</sub> (%)', 467, 576, 15.5, { rot: -90 });
    label('C<sub>X</sub>/C<sub>0</sub> (%)', 467, 804, 15.5, { rot: -90 });

    // ---- Panel E ----
    const releaseLook = axisLook(12.7, 3, 1, '#222', 1.4);
    fixedChart({ x: 40, y: 924, w: 258, h: 172 }, { left: 68.3, top: 934, right: 286, bottom: 1075.7 }, 'line', [
        { data: releaseHours.map((h, i) => ({ x: h, y: releaseQL[i] })), borderColor: '#1e30e6', backgroundColor: '#1e30e6', borderWidth: 1.5, pointRadius: 1.5, errors: releaseQLErr, tension: 0 },
        { data: releaseHours.map((h, i) => ({ x: h, y: releaseTQL[i] })), borderColor: '#f25252', backgroundColor: '#f25252', borderWidth: 1.5, pointRadius: 1.5, errors: releaseTQLErr, tension: 0 }
    ], merge(releaseLook, { type: 'linear', min: 0, max: 50, ticks: { stepSize: 5 } }),
    merge(releaseLook, { type: 'linear', min: 0, max: 100, ticks: { stepSize: 20 } }));
    keyRow(79, 945, '#1e30e6', 'QL', 89, 13.2);
    keyRow(79, 964, '#f25252', 't-QL', 89, 13.2);
    label('Time (h)', 177, 1105.5, 13.4);
    label('Cumlative Release (%)', 36.7, 1007, 12.2, { rot: -90 });

    // ---- Panel F ----
    function hemolysisPanel(box, plot, firstX, step, values, errs) {
        const look = axisLook(11.4, 3, 1, '#333', 1.3);
        const lo = (plot.left - firstX) / step, hi = (plot.right - firstX) / step;
        fixedChart(box, plot, 'bar', [
            { type: 'line', data: [{ x: lo, y: hemolysisLimit }, { x: hi, y: hemolysisLimit }], borderColor: '#ff3b3b', borderWidth: 1.1, borderDash: [2, 1.5], pointRadius: 0 },
            {
                data: values.map((v, i) => ({ x: i, y: v })),
                backgroundColor: hemolysisColors,
                borderColor: '#8c8c8c',
                borderWidth: 1.3,
                barThickness: 8.5,
                errors: errs,
                upperOnly: true,
                errorColor: '#8c8c8c',
                capSize: 3
            }
        ], merge(look, {
            type: 'linear', min: lo, max: hi, offset: false,
            afterBuildTicks: s => { s.ticks = concentrations.map((c, i) => ({ value: i })); },
            ticks: { callback: v => concentrations[v], minRotation: 45, maxRotation: 45, padding: 0 }
        }), merge(look, {
            type: 'linear', min: 0, max: 10,
            ticks: { stepSize: 2.5, callback: v => v.toFixed(1) }
        }));
    }
    hemolysisPanel({ x: 305, y: 925, w: 222, h: 170 }, { left: 342.7, top: 931.7, right: 520.7, bottom: 1068.3 }, 352.7, 14.33, hemolysisQL, hemolysisQLErr);
    hemolysisPanel({ x: 530, y: 925, w: 217, h: 170 }, { left: 567.3, top: 931.7, right: 745, bottom: 1068.3 }, 577.3, 14.36, hemolysisTQL, hemolysisTQLErr);
    label('QL Hemolysis (%)', 312.5, 995, 12.5, { rot: -90 });
    label('t-QL Hemolysis (%)', 537, 995, 12.5, { rot: -90 });
    label('Concentration(μg/mL)', 436.7, 1106.7, 12.1);
    label('Concentration(μg/mL)', 661.7, 1106.7, 12.1);

    // panel letters
    label('A', 11, 12, 22);
    label('B', 11, 465, 22);
    label('C', 264, 467, 22);
    label('D', 465, 464, 22);
    label('E', 11, 932, 22);
    label('F', 294, 932, 22);
</script>
</body>
</html>
